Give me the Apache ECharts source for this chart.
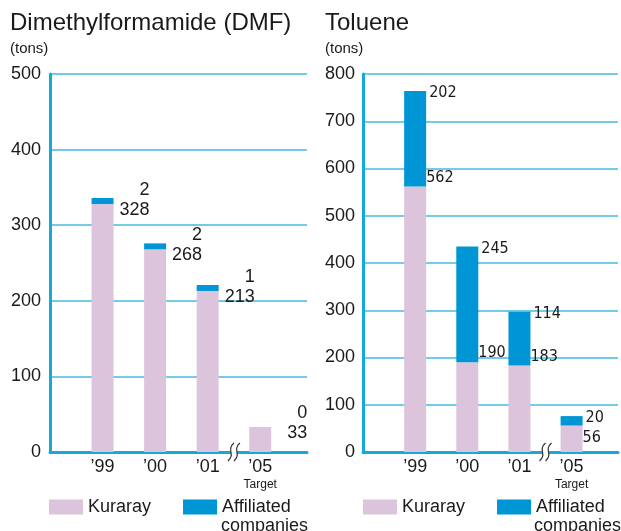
<!DOCTYPE html>
<html>
<head>
<meta charset="utf-8">
<script src="https://cdn.jsdelivr.net/npm/echarts@6/dist/echarts.min.js"></script>
<style>
  html, body { margin: 0; padding: 0; background: #fff; }
  #chart { width: 621px; height: 531px; }
</style>
</head>
<body>
<div id="chart"></div>
<script>
// data
const categories = ['’99', '’00', '’01', '’05']
const targetLabel = 'Target'
const dmfKuraray = [328, 268, 213, 33]
const dmfAffiliated = [2, 2, 1, 0]
const tolKuraray = [562, 190, 183, 56]
const tolAffiliated = [202, 245, 114, 20]
const dmfTicks = [0, 100, 200, 300, 400, 500]
const tolTicks = [0, 100, 200, 300, 400, 500, 600, 700, 800]

const PINK = '#dcc4dc'
const BLUE = '#0096d6'
const LINE = '#14a9d6'
const GRIDLINE = '#45bbdf'
const TEXT = '#1a1a1a'
const FONT = '"Liberation Sans", Arial, sans-serif'
const NARROW = '"Liberation Sans Narrow", "DejaVu Sans Condensed", sans-serif'

const chart = echarts.init(document.getElementById('chart'))

function xAxisFor(gridIndex) {
  return {
    type: 'value',
    gridIndex: gridIndex,
    min: -1,
    max: 3.89,
    interval: 1,
    axisLine: { show: true, onZero: false, lineStyle: { color: LINE, width: 3 } },
    axisTick: { show: false },
    splitLine: { show: false },
    axisLabel: {
      margin: 5,
      formatter: function (v) {
        const c = categories[v]
        if (c === undefined) return ''
        return v === categories.length - 1 ? '{a|' + c + '}\n{t|' + targetLabel + '}' : '{a|' + c + '}'
      },
      rich: {
        a: { fontSize: 18, lineHeight: 20, color: TEXT, fontFamily: FONT },
        t: { fontSize: 12, lineHeight: 16, color: TEXT, fontFamily: FONT }
      }
    }
  }
}

function yAxisFor(gridIndex, ticks, margin) {
  return {
    type: 'value',
    gridIndex: gridIndex,
    min: ticks[0],
    max: ticks[ticks.length - 1],
    interval: ticks[1] - ticks[0],
    axisLine: { show: true, onZero: false, lineStyle: { color: LINE, width: 3 } },
    axisTick: { show: false },
    splitLine: { lineStyle: { color: GRIDLINE, width: 1.5 } },
    axisLabel: { margin: margin, color: TEXT, fontSize: 18, fontFamily: FONT }
  }
}

// value first so the stack runs on y, category index second
function pairs(arr) {
  return arr.map((v, i) => (v === 0 ? { value: [v, i], itemStyle: { color: 'rgba(0,0,0,0)' } } : [v, i]))
}

const legendBase = {
  data: ['Kuraray', 'Affiliated companies'],
  icon: 'rect',
  itemWidth: 34,
  itemHeight: 15,
  itemGap: 32,
  padding: 0,
  selectedMode: false,
  formatter: n => n.split(' ')[0],
  textStyle: { fontSize: 18, fontFamily: FONT, color: TEXT }
}

function barSeries(name, stack, axisIndex, values, extra) {
  return Object.assign({
    type: 'bar', name: name, xAxisIndex: axisIndex, yAxisIndex: axisIndex, stack: stack, barWidth: 22,
    encode: { x: 1, y: 0 },
    data: pairs(values)
  }, extra)
}

const option = {
  backgroundColor: '#fff',
  animation: false,
  title: [
    {
      text: 'Dimethylformamide (DMF)', subtext: '(tons)', left: 10, top: 11, padding: 0, itemGap: 6,
      textStyle: { fontSize: 24, fontWeight: 'normal', fontFamily: FONT, color: TEXT },
      subtextStyle: { fontSize: 15, fontFamily: FONT, color: TEXT }
    },
    {
      text: 'Toluene', subtext: '(tons)', left: 325, top: 11, padding: 0, itemGap: 6,
      textStyle: { fontSize: 24, fontWeight: 'normal', fontFamily: FONT, color: TEXT },
      subtextStyle: { fontSize: 15, fontFamily: FONT, color: TEXT }
    }
  ],
  legend: [
    Object.assign({}, legendBase, { left: 49, top: 498 }),
    Object.assign({}, legendBase, { left: 363, top: 498 })
  ],
  grid: [
    { left: 50, top: 74, width: 257, height: 378 },
    { left: 363, top: 74, width: 258, height: 378 }
  ],
  xAxis: [xAxisFor(0), xAxisFor(1)],
  yAxis: [yAxisFor(0, dmfTicks, 9), yAxisFor(1, tolTicks, 8)],
  series: [
    barSeries('Kuraray', 'dmf', 0, dmfKuraray, {
      itemStyle: { color: PINK },
      label: {
        show: true, position: ['100%', 0], align: 'right', verticalAlign: 'middle', offset: [36, 6],
        fontSize: 18, fontFamily: FONT, color: TEXT, formatter: p => p.value[0]
      }
    }),
    barSeries('Affiliated companies', 'dmf', 0, dmfAffiliated, {
      barMinHeight: 6,
      itemStyle: { color: BLUE },
      label: {
        show: true, position: ['100%', 0], align: 'right', verticalAlign: 'middle', offset: [36, -8],
        fontSize: 18, fontFamily: FONT, color: TEXT, formatter: p => p.value[0]
      }
    }),
    barSeries('Kuraray', 'tol', 1, tolKuraray, {
      itemStyle: { color: PINK },
      label: {
        show: true, position: ['100%', 0], align: 'left', verticalAlign: 'middle', offset: [3, 0],
        fontSize: 16, fontFamily: NARROW, color: TEXT, formatter: p => p.value[0]
      },
      // label sits above the pink top when the blue part is tall, below it otherwise
      labelLayout: p => ({ dy: tolAffiliated[p.dataIndex] > 50 ? -9 : 12 })
    }),
    barSeries('Affiliated companies', 'tol', 1, tolAffiliated, {
      itemStyle: { color: BLUE },
      label: {
        show: true, position: ['100%', 0], align: 'left', verticalAlign: 'middle', offset: [3, 2],
        fontSize: 16, fontFamily: NARROW, color: TEXT, formatter: p => p.value[0]
      }
    })
  ]
}

chart.setOption(option)

// axis break marks between '01 and '05, and the second legend line
function breakMark(gridIndex) {
  const pt = chart.convertToPixel({ gridIndex: gridIndex }, [categories.length - 1.5, 0])
  const cx = pt[0], cy = pt[1]
  const stroke = dx => ({
    type: 'bezierCurve',
    shape: {
      x1: cx + dx + 3, y1: cy - 9, x2: cx + dx - 3, y2: cy + 9,
      cpx1: cx + dx - 5, cpy1: cy - 2, cpx2: cx + dx + 5, cpy2: cy + 2
    },
    style: { stroke: '#333', lineWidth: 1.2, fill: null },
    z: 10
  })
  return [
    { type: 'rect', shape: { x: cx - 3, y: cy - 3, width: 6, height: 6 }, style: { fill: '#fff' }, z: 9 },
    stroke(-3),
    stroke(3)
  ]
}

function secondLine(x) {
  return {
    type: 'text', left: x, top: 517,
    style: { text: 'companies', fontSize: 18, fontFamily: FONT, fill: TEXT }
  }
}

chart.setOption({
  graphic: [].concat(breakMark(0), breakMark(1), [secondLine(221), secondLine(534)])
})
</script>
</body>
</html>
